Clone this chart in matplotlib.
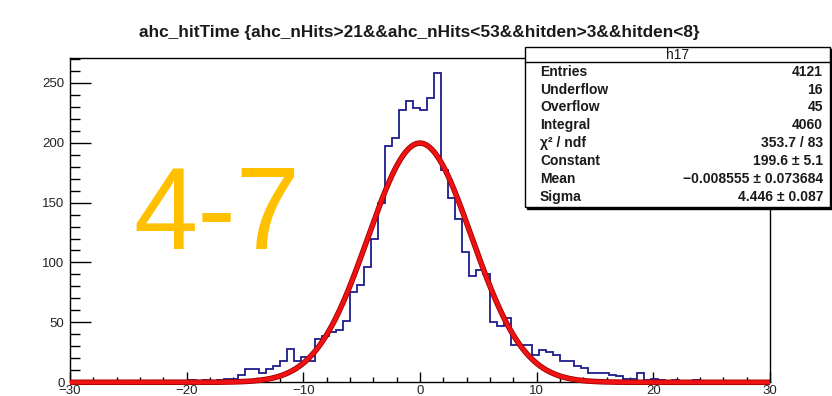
import numpy as np
import matplotlib
matplotlib.use("Agg")
import matplotlib.pyplot as plt
from matplotlib.patches import Rectangle
from matplotlib.lines import Line2D
import matplotlib.patheffects as pe
from matplotlib.ticker import MultipleLocator

plt.rcParams['font.family'] = ['Liberation Sans', 'DejaVu Sans']

# ---- histogram h17: 100 bins from -30 to 30 ----
x_low, x_high, n_bins = -30.0, 30.0, 100
counts = [
    0, 0, 0, 0, 1, 0, 1, 0, 1, 0,          # -30.0 .. -24.6
    1, 0, 1, 1, 0, 1, 1, 2, 1, 2,          # -24.0 .. -18.6
    1, 2, 3, 3, 6, 11, 11, 8, 11, 14,      # -18.0 .. -12.6
    18, 28, 18, 21, 18, 36, 39, 42, 44, 51,  # -12.0 .. -6.6
    75, 81, 96, 120, 150, 197, 204, 227, 235, 229,  # -6.0 .. -0.6
    227, 237, 258, 177, 154, 136, 109, 89, 94, 90,  # 0.0 .. 5.4
    50, 47, 54, 31, 31, 31, 23, 27, 25, 23,  # 6.0 .. 11.4
    18, 18, 14, 12, 8, 8, 8, 6, 5, 3,      # 12.0 .. 17.4
    3, 8, 2, 3, 2, 1, 2, 1, 0, 2,          # 18.0 .. 23.4
    0, 1, 1, 0, 1, 1, 0, 1, 0, 1,          # 24.0 .. 29.4
]

hist_name = "h17"
title = "ahc_hitTime {ahc_nHits>21&&ahc_nHits<53&&hitden>3&&hitden<8}"
stat_labels = ["Entries", "Underflow", "Overflow", "Integral", "\u03c7\u00b2 / ndf",
               "Constant", "Mean", "Sigma"]
stat_values = ["4121", "16", "45", "4060", "353.7 / 83", "199.6 \u00b1 5.1",
               "\u22120.008555 \u00b1 0.073684", "4.446 \u00b1 0.087"]

# gaussian fit parameters
fit_constant = 199.6
fit_mean = -0.008555
fit_sigma = 4.446

tag_text = "4-7"

W, H = 832, 396


def fx(px):
    return px / W


def fy(py):
    return 1 - py / H


fig = plt.figure(figsize=(W / 100, H / 100), dpi=100)
fig.patch.set_facecolor('white')

ax_left, ax_right, ax_top, ax_bottom = 70, 770, 57.7, 382.3
ax = fig.add_axes([fx(ax_left), fy(ax_bottom), (ax_right - ax_left) / W,
                   (ax_bottom - ax_top) / H])

edges = np.linspace(x_low, x_high, n_bins + 1)
ax.stairs(counts, edges, color='#1c1c8c', linewidth=1.3, zorder=2)

xs = np.linspace(x_low, x_high, 1500)
ys = fit_constant * np.exp(-0.5 * ((xs - fit_mean) / fit_sigma) ** 2)
ax.plot(xs, ys, color='#f01212', lw=2.8, zorder=3, clip_on=False,
        solid_capstyle='butt',
        path_effects=[pe.Stroke(linewidth=4.0, foreground='#a00000'), pe.Normal()])

ax.set_xlim(x_low, x_high)
ax.set_ylim(0, 1.05 * max(counts))
ax.xaxis.set_major_locator(MultipleLocator(10))
ax.xaxis.set_minor_locator(MultipleLocator(2))
ax.yaxis.set_major_locator(MultipleLocator(50))
ax.yaxis.set_minor_locator(MultipleLocator(10))
ax.tick_params(which='both', direction='in', top=False, right=False, width=1.0,
               labelsize=9.5, colors='black', labelcolor='#222222')
ax.tick_params(axis='y', which='major', length=15, pad=4)
ax.tick_params(axis='y', which='minor', length=7.5)
ax.tick_params(axis='x', which='major', length=7.5, pad=2)
ax.tick_params(axis='x', which='minor', length=3.8)
for s in ax.spines.values():
    s.set_linewidth(1.0)

renderer = fig.canvas.get_renderer()


def fit_width(t, target_px):
    w = t.get_window_extent(renderer).width
    t.set_fontsize(t.get_fontsize() * target_px / w)


# title
t_title = fig.text(fx(419), fy(33), title, ha='center', va='center',
                   fontsize=11, fontweight='bold', color='#1a1a1a',
                   family=['Liberation Sans Narrow', 'Liberation Sans', 'DejaVu Sans'])
fit_width(t_title, 562)

# big tag
t_tag = fig.text(fx(133), fy(249), tag_text, ha='left', va='baseline',
                 fontsize=80, color='#ffc000', zorder=6)
fit_width(t_tag, 167)

# statistics box
box_l, box_t, box_r, box_b = 525, 47, 830, 207
shadow = Rectangle((fx(box_l + 2), fy(box_b + 2)), (box_r - box_l) / W,
                   (box_b - box_t) / H, transform=fig.transFigure,
                   facecolor='black', edgecolor='black', zorder=8)
box = Rectangle((fx(box_l), fy(box_b)), (box_r - box_l) / W, (box_b - box_t) / H,
                transform=fig.transFigure, facecolor='white', edgecolor='black',
                linewidth=1.0, zorder=9)
fig.add_artist(shadow)
fig.add_artist(box)
fig.add_artist(Line2D([fx(box_l), fx(box_r)], [fy(61.5), fy(61.5)],
                      transform=fig.transFigure, color='black', lw=1.0, zorder=10))
fig.text(fx((box_l + box_r) / 2), fy(55), hist_name, ha='center', va='center',
         fontsize=10, color='#1a1a1a', zorder=11)

row_y0, row_dy = 71.7, 17.85
for i, (lab, val) in enumerate(zip(stat_labels, stat_values)):
    y = fy(row_y0 + i * row_dy)
    fig.text(fx(540), y, lab, ha='left', va='center', fontsize=10,
             fontweight='bold', color='#1a1a1a', zorder=11)
    fig.text(fx(823), y, val, ha='right', va='center', fontsize=10,
             fontweight='bold', color='#1a1a1a', zorder=11)

fig.savefig("out.png", dpi=100, facecolor='white')
